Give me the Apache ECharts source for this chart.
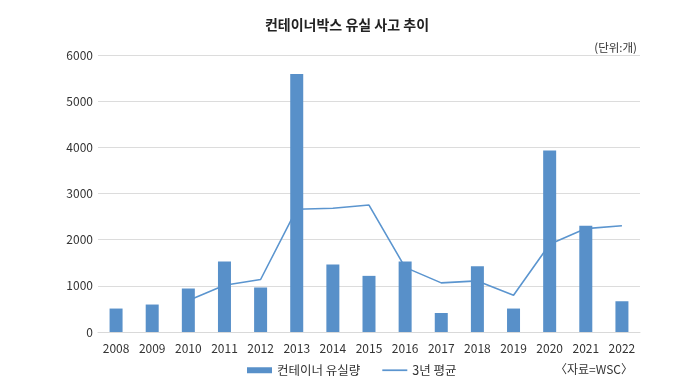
<!DOCTYPE html>
<html><head><meta charset="utf-8">
<script src="https://cdn.jsdelivr.net/npm/echarts@6/dist/echarts.min.js"></script>
<style>html,body{margin:0;padding:0;background:#fff}#c{width:694px;height:392px}</style>
</head><body><div id="c"></div>
<script>
const years = ['2008','2009','2010','2011','2012','2013','2014','2015','2016','2017','2018','2019','2020','2021','2022'];
const lossValues = [508, 595, 942, 1528, 964, 5587, 1463, 1216, 1528, 412, 1426, 508, 3929, 2301, 666];
const avgValues = [null, null, 680, 1014, 1137, 2660, 2679, 2750, 1400, 1064, 1107, 797, 1900, 2240, 2301];
const yTicks = [0, 1000, 2000, 3000, 4000, 5000, 6000];
const font = '"Noto Sans CJK KR", "Noto Sans", sans-serif';
const chart = echarts.init(document.getElementById('c'));
chart.setOption({
  animation: false,
  textStyle: { fontFamily: font },
  title: [
    { text: '컨테이너박스 유실 사고 추이', left: 'center', top: 13,
      textStyle: { fontSize: 14, fontWeight: 'bold', color: '#222', fontFamily: font } },
    { text: '(단위:개)', right: 52, top: 37,
      textStyle: { fontSize: 11.5, fontWeight: 'normal', color: '#333', fontFamily: font } },
    { text: '〈자료=WSC〉', right: 56, top: 358,
      textStyle: { fontSize: 12, fontWeight: 'normal', color: '#333', fontFamily: font } }
  ],
  legend: {
    left: 242, top: 359, itemGap: 22, itemWidth: 25, itemHeight: 6,
    textStyle: { fontSize: 12.5, color: '#333', fontFamily: font },
    data: [
      { name: '컨테이너 유실량', icon: 'rect' },
      { name: '3년 평균', icon: 'path://M0,0 L23,0 L23,1.6 L0,1.6 Z' }
    ]
  },
  grid: { left: 98, right: 54, top: 55, bottom: 60, containLabel: false },
  xAxis: {
    type: 'category', data: years,
    axisLine: { lineStyle: { color: '#d9d9d9' } },
    axisTick: { show: false },
    axisLabel: { fontSize: 12, color: '#333', margin: 10, fontFamily: font }
  },
  yAxis: {
    type: 'value', min: 0, max: 6000, interval: 1000,
    axisLine: { show: false }, axisTick: { show: false },
    splitLine: { lineStyle: { color: '#dcdcdc' } },
    axisLabel: { fontSize: 12, color: '#333', margin: 5, fontFamily: font,
      customValues: yTicks, formatter: v => String(v) }
  },
  series: [
    { name: '컨테이너 유실량', type: 'bar', data: lossValues, barWidth: 13, z: 3,
      itemStyle: { color: '#5890c9' } },
    { name: '3년 평균', type: 'line', data: avgValues, z: 2, symbol: 'none',
      connectNulls: false,
      lineStyle: { color: '#5b95cf', width: 1.6 }, itemStyle: { color: '#5b95cf' } }
  ]
});
</script></body></html>
